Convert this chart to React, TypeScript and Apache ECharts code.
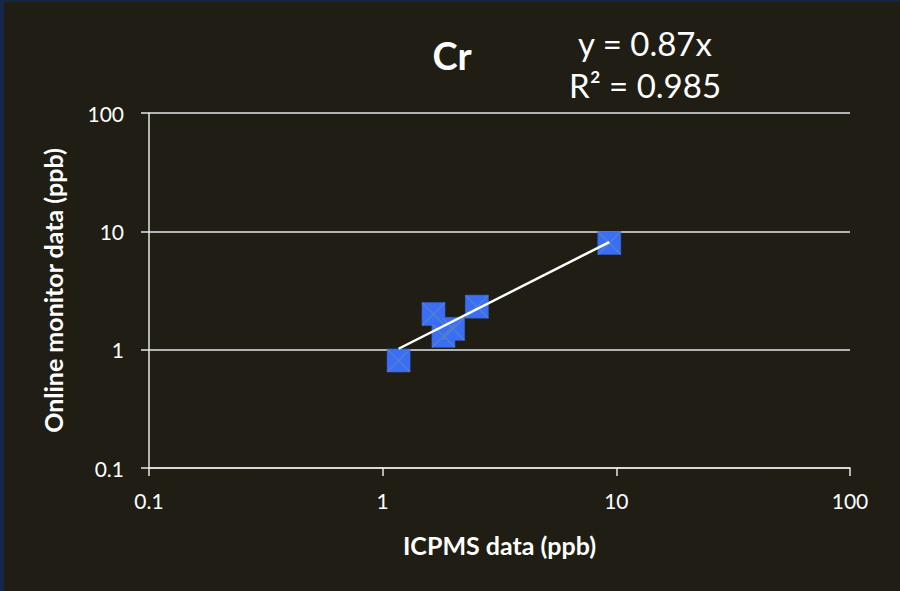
import React, { useEffect, useRef } from "react";
import * as echarts from "echarts";

// ICP-MS reference values vs. online monitor readings for chromium (ppb)
const icpmsPpb: number[] = [1.17, 1.65, 1.82, 2.0, 2.53, 9.33];
const monitorPpb: number[] = [0.81, 2.0, 1.31, 1.5, 2.31, 7.98];

// Linear fit through the origin and its goodness of fit
const fitSlope = 0.87;
const fitR2 = 0.985;

const axisTicks: number[] = [0.1, 1, 10, 100];

const BG = "#1f1d14";
const FG = "#ffffff";
const LINE = "#e6e6e6";
const FONT = "Lato, 'Open Sans', sans-serif";

// Square marker with a thin diagonal cross, as an SVG path symbol
const CROSS_PATH =
  "path://M0,0 L1,0 L23,22 L23,23 L22,23 L0,1 Z M22,0 L23,0 L23,1 L1,23 L0,23 L0,22 Z";

export default function App() {
  const ref = useRef<HTMLDivElement>(null);

  useEffect(() => {
    if (!ref.current) return;
    const chart = echarts.init(ref.current, undefined, { renderer: "svg" });

    const points = icpmsPpb.map((x, i) => [x, monitorPpb[i]]);
    const xMin = Math.min(...icpmsPpb);
    const xMax = Math.max(...icpmsPpb);
    const fitLine = [
      [xMin, fitSlope * xMin],
      [xMax, fitSlope * xMax],
    ];

    const axisCommon = {
      type: "log" as const,
      logBase: 10,
      min: axisTicks[0],
      max: axisTicks[axisTicks.length - 1],
      axisLine: { show: true, lineStyle: { color: LINE, width: 1.5 } },
      axisTick: { show: true, inside: false, length: 8, lineStyle: { color: LINE, width: 1.5 } },
      minorTick: { show: false },
      axisLabel: {
        color: FG,
        fontFamily: FONT,
        fontSize: 21,
        formatter: (v: number) => String(v),
      },
    };

    chart.setOption({
      animation: false,
      backgroundColor: BG,
      grid: { left: 149, right: 50, top: 113, bottom: 123, containLabel: false },
      xAxis: {
        ...axisCommon,
        splitLine: { show: false },
        axisLabel: { ...axisCommon.axisLabel, margin: 22 },
        name: "ICPMS data (ppb)",
        nameLocation: "middle",
        nameGap: 64,
        nameTextStyle: { color: FG, fontFamily: FONT, fontWeight: "bold", fontSize: 25 },
      },
      yAxis: {
        ...axisCommon,
        splitLine: { show: true, lineStyle: { color: LINE, width: 1.5 } },
        axisLabel: { ...axisCommon.axisLabel, margin: 25 },
        name: "Online monitor data (ppb)",
        nameLocation: "middle",
        nameGap: 84,
        nameTextStyle: { color: FG, fontFamily: FONT, fontWeight: "bold", fontSize: 25 },
      },
      graphic: [
        {
          type: "rect",
          left: 0,
          top: 0,
          shape: { width: 4, height: 591 },
          style: { fill: "#15264a" },
          silent: true,
        },
        {
          type: "rect",
          left: 0,
          top: 0,
          shape: { width: 900, height: 2 },
          style: { fill: "#15264a" },
          silent: true,
        },
        {
          type: "text",
          x: 452,
          y: 55,
          style: {
            text: "Cr",
            fill: FG,
            font: `bold 38px ${FONT}`,
            textAlign: "center",
            textVerticalAlign: "middle",
          },
        },
        {
          type: "text",
          x: 645,
          y: 43,
          style: {
            text: `y = ${fitSlope}x`,
            fill: FG,
            font: `33px ${FONT}`,
            textAlign: "center",
            textVerticalAlign: "middle",
          },
        },
        {
          type: "text",
          x: 645,
          y: 85,
          style: {
            text: `R² = ${fitR2}`,
            fill: FG,
            font: `33px ${FONT}`,
            textAlign: "center",
            textVerticalAlign: "middle",
          },
        },
      ],
      series: [
        {
          type: "scatter",
          data: points,
          symbol: "rect",
          symbolSize: 23,
          itemStyle: { color: "#3a6ef5", borderColor: "#3466e0", borderWidth: 0.6, opacity: 1 },
          z: 2,
        },
        {
          type: "scatter",
          data: points,
          symbol: CROSS_PATH,
          symbolSize: 23,
          itemStyle: { color: "#5580c8", opacity: 1 },
          z: 3,
        },
        {
          type: "line",
          data: fitLine,
          symbol: "none",
          lineStyle: { color: "#ffffff", width: 2.5 },
          z: 4,
        },
      ],
    });

    return () => chart.dispose();
  }, []);

  return (
    <div
      ref={ref}
      style={{ position: "absolute", left: 0, top: 0, width: 900, height: 591 }}
    />
  );
}
